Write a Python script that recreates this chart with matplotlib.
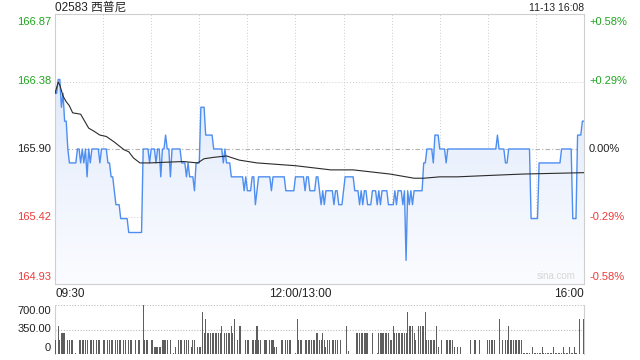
import numpy as np
import matplotlib
matplotlib.use("Agg")
import matplotlib.pyplot as plt
from matplotlib.patches import Polygon
from matplotlib.colors import LinearSegmentedColormap

plt.rcParams['font.family'] = ['Liberation Sans', 'Noto Sans CJK SC', 'DejaVu Sans']

title = "02583 西普尼"
stamp = "11-13 16:08"
pre_close = 165.90
y_ticks = [164.93, 165.415, 165.90, 166.385, 166.87]
y_labels = ["164.93", "165.42", "165.90", "166.38", "166.87"]
pct_labels = ["-0.58%", "-0.29%", "0.00%", "+0.29%", "+0.58%"]
x_labels = ["09:30", "12:00/13:00", "16:00"]
vol_ticks = [0, 350, 700]
vol_labels = ["0", "350.00", "700.00"]

# per-minute last price, 09:30 .. 16:00 (lunch collapsed)
price = [
    166.3, 166.3, 166.4, 166.4, 166.2, 166.3, 166.1, 166.1, 165.9, 165.8,
    165.8, 165.8, 165.8, 165.8, 165.9, 165.9, 165.8, 165.9, 165.8, 165.9,
    165.7, 165.9, 165.8, 165.9, 165.9, 165.9, 165.9, 165.9, 165.8, 165.9,
    165.9, 165.9, 165.9, 165.8, 165.8, 165.7, 165.7, 165.6, 165.5, 165.5,
    165.5, 165.4, 165.4, 165.4, 165.4, 165.4, 165.3, 165.3, 165.3, 165.3,
    165.3, 165.3, 165.3, 165.3, 165.3, 165.9, 165.9, 165.9, 165.9, 165.8,
    165.9, 165.9, 165.9, 165.8, 165.9, 165.9, 165.7, 165.9, 165.9, 166.0,
    165.9, 165.9, 165.7, 165.9, 165.9, 165.9, 165.9, 165.9, 165.9, 165.8,
    165.8, 165.8, 165.7, 165.8, 165.7, 165.7, 165.7, 165.6, 165.8, 165.8,
    165.8, 166.2, 166.2, 166.2, 166.0, 166.0, 166.0, 166.0, 166.0, 165.9,
    165.9, 165.9, 165.9, 165.9, 165.9, 165.8, 165.9, 165.8, 165.8, 165.8,
    165.7, 165.7, 165.7, 165.7, 165.7, 165.7, 165.7, 165.7, 165.6, 165.7,
    165.6, 165.6, 165.6, 165.7, 165.7, 165.5, 165.6, 165.7, 165.7, 165.7,
    165.7, 165.7, 165.7, 165.7, 165.7, 165.6, 165.7, 165.7, 165.7, 165.7,
    165.7, 165.7, 165.7, 165.7, 165.6, 165.6, 165.6, 165.6, 165.6, 165.6,
    165.7, 165.7, 165.7, 165.7, 165.7, 165.7, 165.6, 165.7, 165.7, 165.6,
    165.6, 165.6, 165.6, 165.7, 165.7, 165.6, 165.5, 165.6, 165.5, 165.6,
    165.6, 165.6, 165.6, 165.6, 165.5, 165.6, 165.6, 165.5, 165.5, 165.5,
    165.6, 165.7, 165.7, 165.7, 165.7, 165.7, 165.7, 165.6, 165.6, 165.6,
    165.5, 165.6, 165.5, 165.6, 165.6, 165.5, 165.5, 165.5, 165.6, 165.6,
    165.6, 165.5, 165.6, 165.5, 165.6, 165.6, 165.6, 165.6, 165.5, 165.5,
    165.5, 165.5, 165.6, 165.5, 165.6, 165.6, 165.6, 165.5, 165.6, 165.1,
    165.6, 165.5, 165.6, 165.5, 165.6, 165.6, 165.6, 165.6, 165.6, 165.6,
    165.8, 165.8, 165.9, 165.9, 165.9, 165.9, 165.8, 166.0, 166.0, 166.0,
    165.9, 165.9, 165.9, 165.9, 165.8, 165.9, 165.9, 165.9, 165.9, 165.9,
    165.9, 165.9, 165.9, 165.9, 165.9, 165.9, 165.9, 165.9, 165.9, 165.9,
    165.9, 165.9, 165.9, 165.9, 165.9, 165.9, 165.9, 165.9, 165.9, 165.9,
    165.9, 165.9, 165.9, 165.9, 165.9, 165.9, 166.0, 165.9, 165.9, 165.9,
    165.9, 165.8, 165.8, 165.9, 165.9, 165.9, 165.9, 165.9, 165.9, 165.9,
    165.9, 165.9, 165.9, 165.9, 165.9, 165.9, 165.9, 165.4, 165.4, 165.4,
    165.4, 165.4, 165.8, 165.8, 165.8, 165.8, 165.8, 165.8, 165.8, 165.8,
    165.8, 165.8, 165.8, 165.8, 165.8, 165.8, 165.9, 165.9, 165.9, 165.9,
    165.9, 165.9, 165.9, 165.4, 165.4, 165.4, 166.0, 166.0, 166.0, 166.1,
    166.1,
]

# average price line (minute index, value)
avg_t = [0, 2, 3, 5, 7, 9, 11, 16, 18, 21, 24, 28, 32, 37, 43, 46, 49, 53,
         59, 80, 89, 93, 99, 107, 115, 126, 150, 172, 186, 209, 224, 230,
         240, 251, 271, 292, 330]
avg_p = [166.30, 166.38, 166.36, 166.28, 166.24, 166.21, 166.16, 166.15,
         166.11, 166.05, 166.03, 166.00, 165.99, 165.95, 165.895, 165.88,
         165.835, 165.80, 165.80, 165.81, 165.80, 165.83, 165.84, 165.85,
         165.82, 165.80, 165.78, 165.75, 165.75, 165.72, 165.69, 165.69,
         165.70, 165.70, 165.71, 165.72, 165.73]

volume = [
    200, 0, 400, 200, 300, 300, 300, 0, 200, 200,
    200, 200, 0, 20, 0, 200, 200, 200, 200, 200,
    200, 0, 200, 200, 200, 0, 200, 200, 200, 0,
    200, 200, 0, 200, 200, 200, 200, 0, 200, 200,
    200, 200, 0, 200, 200, 0, 200, 200, 200, 0,
    200, 0, 200, 200, 0, 720, 200, 200, 200, 0,
    200, 200, 100, 100, 100, 100, 100, 200, 200, 200,
    200, 0, 200, 0, 20, 100, 0, 200, 200, 200,
    0, 200, 200, 200, 0, 100, 200, 200, 0, 100,
    100, 100, 600, 300, 500, 300, 300, 300, 300, 300,
    300, 300, 300, 300, 400, 0, 300, 300, 300, 300,
    400, 300, 500, 0, 200, 400, 400, 0, 0, 200,
    200, 200, 0, 200, 200, 200, 400, 200, 200, 0,
    0, 200, 200, 0, 200, 200, 200, 100, 100, 0,
    0, 200, 200, 0, 200, 200, 200, 200, 0, 0,
    20, 500, 200, 200, 200, 0, 200, 200, 200, 200,
    200, 200, 200, 300, 300, 200, 200, 300, 200, 100,
    200, 200, 0, 200, 200, 200, 200, 0, 200, 0,
    0, 0, 400, 50, 0, 0, 0, 0, 300, 300,
    300, 300, 300, 300, 300, 300, 0, 0, 300, 0,
    0, 20, 300, 300, 300, 300, 300, 300, 300, 200,
    200, 400, 300, 300, 300, 300, 300, 300, 300, 300,
    600, 400, 400, 400, 300, 200, 0, 400, 400, 400,
    400, 600, 200, 200, 200, 200, 200, 200, 400, 100,
    0, 200, 0, 0, 200, 200, 200, 200, 200, 100,
    0, 100, 0, 100, 0, 0, 0, 0, 0, 200,
    0, 0, 200, 0, 0, 200, 0, 0, 0, 0,
    200, 200, 200, 200, 200, 0, 0, 500, 0, 200,
    0, 200, 200, 400, 200, 200, 200, 200, 200, 200,
    200, 200, 10, 10, 10, 10, 10, 0, 100, 10,
    10, 10, 10, 10, 100, 10, 10, 10, 10, 10,
    10, 100, 10, 10, 10, 10, 10, 100, 10, 10,
    10, 100, 10, 10, 100, 10, 0, 500, 0, 0,
    500,
]

minutes = np.arange(len(price))
W, H = 640, 360
fig = plt.figure(figsize=(6.4, 3.6), dpi=100)
fig.patch.set_facecolor('white')

ymin, ymax = y_ticks[0], y_ticks[-1]
xmax = len(price) - 1
ax = fig.add_axes([55 / W, 1 - 284 / H, 529 / W, 270 / H])
ax.set_xlim(0, xmax)
ax.set_ylim(ymin, ymax)
for s in ax.spines.values():
    s.set_color('#cfcfcf')
    s.set_linewidth(0.8)
ax.set_xticks([])
ax.set_yticks([])

# grid
for t in range(30, xmax, 30):
    ax.axvline(t, color='#cccccc', lw=0.7, ls=(0, (1, 2)), zorder=0)
for v in (y_ticks[1], y_ticks[3]):
    ax.axhline(v, color='#cccccc', lw=0.7, ls=(0, (1, 2)), zorder=0)
ax.axhline(pre_close, color='#b0b0b0', lw=0.8, ls=(0, (4, 2, 1, 2)), zorder=0)

# gradient fill under price
verts = list(zip(minutes, price)) + [(xmax, ymin), (0, ymin)]
poly = Polygon(verts, closed=True, facecolor='none', edgecolor='none')
ax.add_patch(poly)
cmap = LinearSegmentedColormap.from_list('g', ['#fbfcff', '#d9e5fa'])
grad = np.linspace(0, 1, 256).reshape(-1, 1)
im = ax.imshow(grad, extent=[0, xmax, ymin, ymax], aspect='auto', cmap=cmap,
               origin='lower', zorder=1, interpolation='bilinear')
im.set_clip_path(poly)

ax.plot(minutes, price, color='#4d8ef0', lw=1.0, zorder=3)
ax.plot(avg_t, avg_p, color='#2b2b2b', lw=0.8, zorder=4)

ax.text(0.985, 0.012, "sina.com", transform=ax.transAxes, ha='right', va='bottom',
        fontsize=7, color='#d6d6d6')

# y labels left and right
green, red, black = '#1fa51f', '#ee3b3b', '#222222'
for i, (v, lab, pl) in enumerate(zip(y_ticks, y_labels, pct_labels)):
    col = green if v > pre_close + 1e-9 else (red if v < pre_close - 1e-9 else black)
    va = 'bottom' if i == 0 else ('top' if i == len(y_ticks) - 1 else 'center')
    off = 2 if i == 0 else (-3 if i == len(y_ticks) - 1 else 0)
    ax.annotate(lab, xy=(0, v), xycoords=('axes fraction', 'data'),
                xytext=(-4, off), textcoords='offset pixels', ha='right', va=va,
                fontsize=8, color=col)
    ax.annotate(pl, xy=(1, v), xycoords=('axes fraction', 'data'),
                xytext=(5, off), textcoords='offset pixels', ha='left', va=va,
                fontsize=8, color=col)

# x labels
ax.annotate(x_labels[0], xy=(0, 0), xycoords='axes fraction', xytext=(0, -4),
            textcoords='offset pixels', ha='left', va='top', fontsize=8.5, color='#222222')
ax.annotate(x_labels[1], xy=(153, ymin), xycoords='data', xytext=(0, -4),
            textcoords='offset pixels', ha='center', va='top', fontsize=8.5, color='#222222')
ax.annotate(x_labels[2], xy=(1, 0), xycoords='axes fraction', xytext=(0, -4),
            textcoords='offset pixels', ha='right', va='top', fontsize=8.5, color='#222222')

fig.text(55 / W, 1 - 8 / H, title, ha='left', va='center', fontsize=8.5, color='#222222')
fig.text(584 / W, 1 - 8 / H, stamp, ha='right', va='center', fontsize=7.5, color='#222222')

# volume panel
vax = fig.add_axes([55 / W, 1 - 354 / H, 529 / W, 49 / H])
vax.set_xlim(0, xmax)
vax.set_ylim(0, 700)
vax.bar(minutes, volume, width=0.65, color='#5e5e5e', zorder=3)
for s in ('top', 'bottom'):
    vax.spines[s].set_visible(False)
for s in ('left', 'right'):
    vax.spines[s].set_color('#cfcfcf')
    vax.spines[s].set_linewidth(0.8)
for v in vol_ticks:
    vax.axhline(v, color='#bdbdbd', lw=0.8, ls=(0, (1, 1.5)), zorder=0)
vax.set_xticks([])
vax.set_yticks([])
for i, (v, lab) in enumerate(zip(vol_ticks, vol_labels)):
    va = 'bottom' if i == 0 else ('top' if i == len(vol_ticks) - 1 else 'center')
    off = 1 if i == 0 else (-1 if i == len(vol_ticks) - 1 else 0)
    vax.annotate(lab, xy=(0, v), xycoords=('axes fraction', 'data'),
                 xytext=(-4, off), textcoords='offset pixels', ha='right', va=va,
                 fontsize=8, color='#222222')

fig.savefig('out.png', dpi=100)
